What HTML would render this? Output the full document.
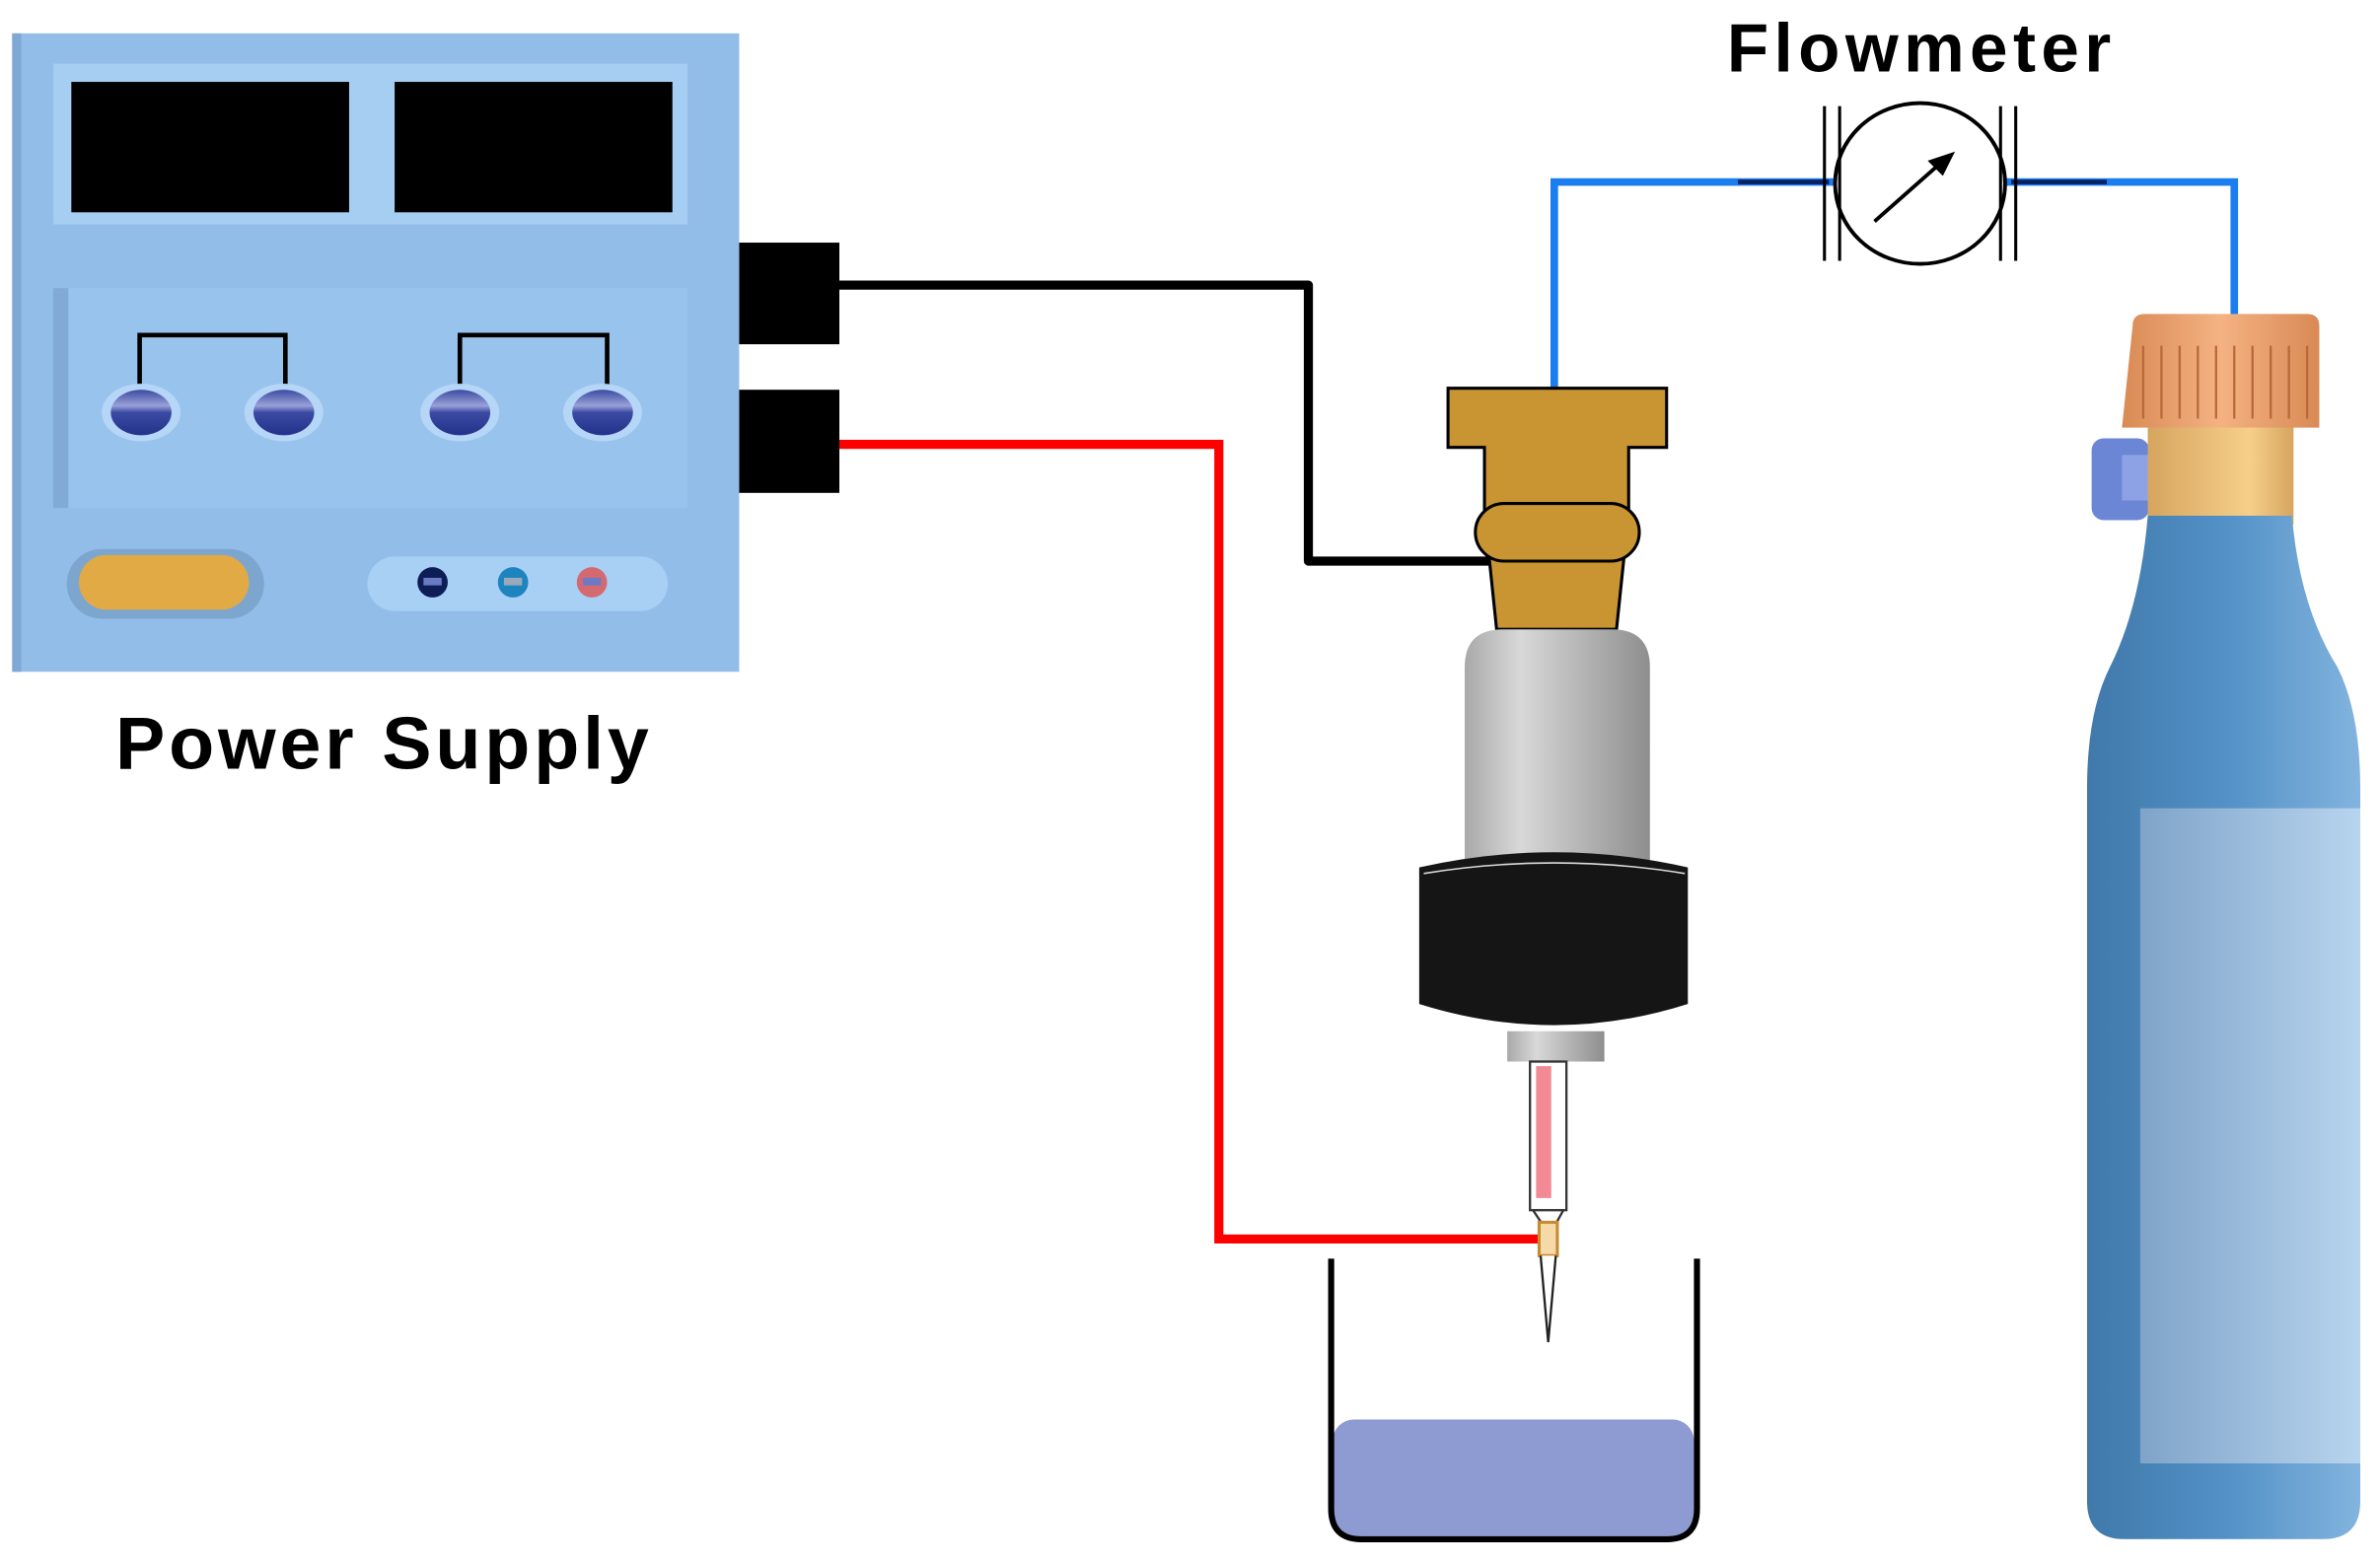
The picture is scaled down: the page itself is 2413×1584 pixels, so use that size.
<!DOCTYPE html>
<html><head><meta charset="utf-8"><style>
html,body{margin:0;padding:0;background:#fff}
svg{display:block}
text{font-family:"Liberation Sans",sans-serif;font-weight:bold}
</style></head><body>
<svg width="2413" height="1584" viewBox="0 0 1568 1030" preserveAspectRatio="none" xmlns="http://www.w3.org/2000/svg">
<defs>
<linearGradient id="gc" x1="0" x2="1"><stop offset="0" stop-color="#a9a9a9"/><stop offset="0.3" stop-color="#d8d8d8"/><stop offset="1" stop-color="#8e8e8e"/></linearGradient>
<linearGradient id="bt" x1="0" x2="1"><stop offset="0" stop-color="#3f77a8"/><stop offset="0.5" stop-color="#5290c6"/><stop offset="1" stop-color="#85b6e0"/></linearGradient>
<linearGradient id="lb" x1="0" x2="1"><stop offset="0" stop-color="#86a8cb"/><stop offset="1" stop-color="#bed8f0"/></linearGradient>
<linearGradient id="cap" x1="0" x2="1"><stop offset="0" stop-color="#d98a55"/><stop offset="0.5" stop-color="#f4b282"/><stop offset="1" stop-color="#d98a55"/></linearGradient>
<linearGradient id="neck" x1="0" x2="1"><stop offset="0" stop-color="#d6a560"/><stop offset="0.7" stop-color="#f6cf88"/><stop offset="1" stop-color="#d6a560"/></linearGradient>
<linearGradient id="btn" x1="0" y1="0" x2="0" y2="1"><stop offset="0" stop-color="#3a4aa0"/><stop offset="0.35" stop-color="#9aa0d8"/><stop offset="0.5" stop-color="#3b4ba3"/><stop offset="1" stop-color="#22318a"/></linearGradient>
<clipPath id="bc"><path d="M1415 340Q1410 400 1390 440Q1375 470 1375 520V990Q1375 1015 1400 1015H1530Q1555 1015 1555 990V520Q1555 470 1540 440Q1515 400 1510 340Z"/></clipPath>
</defs>
<rect x="8" y="22" width="479" height="421" fill="#92bde8"/>
<rect x="8" y="22" width="6" height="421" fill="#7fa8d6"/>
<rect x="35" y="42" width="418" height="106" fill="#a6cdf2"/>
<rect x="47" y="54" width="183" height="86" fill="#000"/>
<rect x="260" y="54" width="183" height="86" fill="#000"/>
<rect x="35" y="190" width="418" height="145" fill="#98c3ec"/>
<rect x="35" y="190" width="10" height="145" fill="#82aad6"/>
<path d="M92 255V221H188V255M303 255V221H400V255" fill="none" stroke="#000" stroke-width="3"/>
<g>
<ellipse cx="93" cy="272" rx="26" ry="19" fill="#b5d6f6"/><ellipse cx="93" cy="272" rx="20" ry="15" fill="url(#btn)"/>
<ellipse cx="187" cy="272" rx="26" ry="19" fill="#b5d6f6"/><ellipse cx="187" cy="272" rx="20" ry="15" fill="url(#btn)"/>
<ellipse cx="303" cy="272" rx="26" ry="19" fill="#b5d6f6"/><ellipse cx="303" cy="272" rx="20" ry="15" fill="url(#btn)"/>
<ellipse cx="397" cy="272" rx="26" ry="19" fill="#b5d6f6"/><ellipse cx="397" cy="272" rx="20" ry="15" fill="url(#btn)"/>
</g>
<rect x="44" y="362" width="130" height="46" rx="23" fill="#7da6cf"/>
<rect x="52" y="366" width="112" height="36" rx="18" fill="#e2aa45"/>
<rect x="242" y="367" width="198" height="36" rx="18" fill="#a8cff4"/>
<circle cx="285" cy="384" r="10" fill="#0d1d55"/><rect x="279" y="381" width="12" height="5" fill="#6a7ac4"/>
<circle cx="338" cy="384" r="10" fill="#1d84c0"/><rect x="332" y="381" width="12" height="5" fill="#9ab"/>
<circle cx="390" cy="384" r="10" fill="#d46a70"/><rect x="384" y="381" width="12" height="5" fill="#6a7ac4"/>
<rect x="487" y="160" width="66" height="67" fill="#000"/>
<rect x="487" y="257" width="66" height="68" fill="#000"/>
<text x="253" y="507" font-size="49" letter-spacing="2.5" text-anchor="middle">Power Supply</text>
<path d="M553 188H862V370H1020" fill="none" stroke="#000" stroke-width="6" stroke-linejoin="round"/>
<path d="M553 293H803V817H1020" fill="none" stroke="#f00" stroke-width="6"/>
<path d="M1024 256V120H1210M1322 120H1472V220" fill="none" stroke="#1a7df0" stroke-width="5"/>
<path d="M1145 120H1205M1325 120H1388" stroke="#0a2060" stroke-width="3"/>
<ellipse cx="1265" cy="121" rx="56" ry="53" fill="#fff" stroke="#000" stroke-width="2.5"/>
<path d="M1202 70V172M1212 70V172M1318 70V172M1328 70V172" stroke="#000" stroke-width="2"/>
<path d="M1235 146L1278 108" stroke="#000" stroke-width="2.5"/>
<path d="M1288 100L1270 106L1280 116Z" fill="#000"/>
<text x="1266" y="47" font-size="45" letter-spacing="3.5" text-anchor="middle">Flowmeter</text>
<path d="M954 256H1098V295H1073V338L1065 415H986L978 338V295H954Z" fill="#c99533" stroke="#000" stroke-width="2"/>
<rect x="972" y="332" width="108" height="38" rx="19" fill="#c99533" stroke="#000" stroke-width="2"/>
<path d="M965 440Q965 415 990 415H1062Q1087 415 1087 440V575H965Z" fill="url(#gc)"/>
<path d="M935 572Q1024 552 1112 572V662Q1024 690 935 662Z" fill="#151515"/>
<path d="M938 576Q1024 562 1110 576" stroke="#ddd" stroke-width="1" fill="none"/>
<rect x="993" y="680" width="64" height="20" fill="url(#gc)"/>
<rect x="1008" y="700" width="24" height="98" fill="#fff" stroke="#333" stroke-width="1.5"/>
<rect x="1012" y="703" width="10" height="87" fill="#f28a95"/>
<path d="M1010 798L1016 807H1025L1030 798" fill="none" stroke="#333" stroke-width="1.5"/>
<rect x="1014" y="806" width="12" height="22" fill="#f6d9a8" stroke="#c68a30" stroke-width="2"/>
<path d="M1015 828L1020 885L1025 828" fill="#fff" stroke="#222" stroke-width="1.5"/>
<rect x="878" y="936" width="238" height="77" rx="14" fill="#8e9ad2"/>
<path d="M877 830V995Q877 1015 897 1015H1098Q1118 1015 1118 995V830" fill="none" stroke="#000" stroke-width="4"/>
<rect x="1378" y="289" width="38" height="54" rx="8" fill="#6c86d6"/>
<rect x="1398" y="300" width="22" height="30" fill="#8da2e4"/>
<rect x="1415" y="278" width="96" height="68" fill="url(#neck)"/>
<g clip-path="url(#bc)">
<rect x="1370" y="330" width="190" height="700" fill="url(#bt)"/>
<rect x="1410" y="533" width="145" height="432" fill="url(#lb)" opacity="0.9"/>
</g>
<path d="M1405 215Q1405 207 1413 207H1520Q1528 207 1528 215V282H1398Z" fill="url(#cap)"/>
<path d="M1412 228V276M1424 228V276M1436 228V276M1448 228V276M1460 228V276M1472 228V276M1484 228V276M1496 228V276M1508 228V276M1520 228V276" stroke="#b86a3a" stroke-width="1.5"/>
</svg>
</body></html>
